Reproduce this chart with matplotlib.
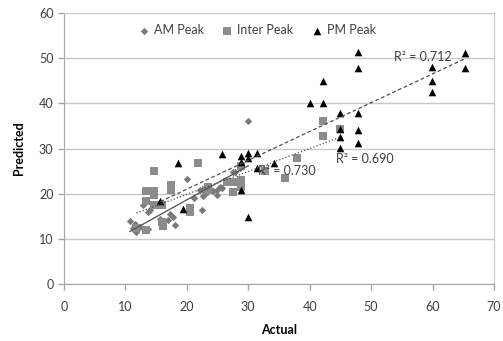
import numpy as np
import matplotlib
matplotlib.use("Agg")
import matplotlib.pyplot as plt

plt.rcParams['font.family'] = ['Lato', 'DejaVu Sans']

# -------------------------
# Data
# -------------------------
am_x = [10.75, 11.6, 11.3, 11.8, 12.4, 13.7, 12.9, 14.0, 13.7, 15.6, 17.0, 17.8, 18.1, 17.3,
        20.0, 21.2, 22.4, 22.6, 23.2, 24.0, 24.9, 25.4, 24.9, 25.7, 27.8, 28.7, 30.0, 24.3,
        22.1, 27.5]
am_y = [14.0, 13.4, 12.5, 11.6, 12.7, 12.1, 17.5, 16.4, 16.0, 14.5, 14.2, 14.8, 13.1, 15.6,
        23.3, 19.0, 16.4, 19.4, 20.1, 20.8, 20.8, 21.5, 19.6, 21.2, 24.9, 25.6, 36.0, 20.6,
        20.8, 24.9]

inter_x = [11.8, 13.4, 16.1, 15.9, 13.4, 14.7, 16.0, 13.4, 14.7, 14.7, 14.7, 17.5, 17.5,
           20.5, 20.5, 21.9, 23.5, 23.2, 26.5, 27.6, 27.6, 28.9, 28.9, 28.9, 32.7, 36.0,
           37.9, 42.2, 42.2, 45.0]
inter_y = [12.3, 11.9, 12.8, 13.8, 18.3, 17.5, 17.4, 20.7, 20.6, 19.7, 25.0, 21.9, 20.8,
           16.8, 16.0, 26.7, 21.5, 20.9, 22.6, 22.6, 20.4, 23.1, 21.5, 26.1, 25.0, 23.4,
           27.8, 36.1, 32.7, 34.4]

pm_x = [15.7, 18.5, 19.4, 25.7, 28.8, 28.8, 30.0, 31.4, 30.0, 31.4, 34.2, 28.8, 30.0,
        40.0, 42.2, 42.2, 45.0, 47.9, 45.0, 47.9, 45.0, 47.9, 45.0, 47.9, 47.9,
        59.9, 59.9, 59.9, 65.3, 65.3]
pm_y = [18.4, 26.7, 16.7, 28.8, 28.4, 27.0, 28.9, 28.9, 27.8, 25.6, 26.7, 20.8, 14.9,
        40.1, 40.1, 45.0, 37.9, 37.9, 34.4, 34.2, 32.6, 31.3, 30.2, 47.9, 51.3,
        48.0, 45.0, 42.4, 51.2, 47.9]

r2_labels = ["R\u00b2 = 0.730", "R\u00b2 = 0.690", "R\u00b2 = 0.712"]

fig = plt.figure(figsize=(5.03, 3.41), dpi=100)
ax = fig.add_axes([0.127, 0.167, 0.855, 0.795])

grid_c = '#c8c8c8'
axis_c = '#a6a6a6'
txt_c = '#404040'

ax.scatter(am_x, am_y, marker='D', s=14, color='#7a7a7a', linewidths=0, label='AM Peak', zorder=3)
ax.scatter(inter_x, inter_y, marker='s', s=34, color='#8c8c8c', linewidths=0, label='Inter Peak', zorder=3)
ax.scatter(pm_x, pm_y, marker='^', s=30, color='black', linewidths=0, label='PM Peak', zorder=4)

# linear trendlines over each series range
series = [(am_x, am_y, '-'), (inter_x, inter_y, ':'), (pm_x, pm_y, (0, (3, 2)))]
for xs, ys, ls in series:
    k, b = np.polyfit(xs, ys, 1)
    xx = np.array([min(xs), max(xs)])
    ax.plot(xx, k * xx + b, color='#505050', lw=0.9, ls=ls, zorder=5)

ax.text(31.6, 25.0, r2_labels[0], fontsize=9, color=txt_c, va='center', ha='left', zorder=6)
ax.text(44.3, 27.7, r2_labels[1], fontsize=9, color=txt_c, va='center', ha='left', zorder=6)
ax.text(53.7, 50.2, r2_labels[2], fontsize=9, color=txt_c, va='center', ha='left', zorder=6)

ax.set_xlim(0, 70)
ax.set_ylim(0, 60)
ax.set_xticks(range(0, 71, 10))
ax.set_yticks(range(0, 61, 10))
ax.grid(axis='y', color=grid_c, lw=1)
ax.set_axisbelow(True)

for s in ['top', 'right']:
    ax.spines[s].set_color(grid_c)
for s in ['left', 'bottom']:
    ax.spines[s].set_color(axis_c)
ax.tick_params(colors=axis_c, labelcolor=txt_c, labelsize=9, length=4, width=1)
ax.tick_params(axis='x', pad=8)

ax.set_xlabel('Actual', fontsize=9, fontweight='bold', color='black', labelpad=8)
ax.set_ylabel('Predicted', fontsize=9, fontweight='bold', color='black', labelpad=10)

leg = ax.legend(loc='upper center', bbox_to_anchor=(0.45, 1.0), ncol=3, frameon=False,
                fontsize=9, handlelength=0.8, handletextpad=0.4, columnspacing=1.5,
                labelcolor=txt_c)

fig.savefig('out.png', dpi=100)
